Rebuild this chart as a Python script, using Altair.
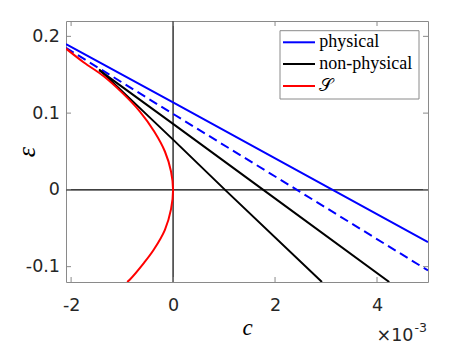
import altair as alt
import pandas as pd

# c values are given in units of 1e-3
x_ticks = [-2, 0, 2, 4]
y_ticks = [-0.1, 0, 0.1, 0.2]

red_c = [-2.10, -1.75, -1.36, -0.99, -0.65, -0.37, -0.16, -0.04, 0.0, -0.04, -0.16, -0.38, -0.57, -0.85, -0.90]
red_eps = [0.184, 0.166, 0.148, 0.126, 0.102, 0.076, 0.050, 0.024, 0.0, -0.025, -0.052, -0.078, -0.095, -0.117, -0.120]

blue_c = [-2.1, 0.0, 3.13, 5.0]
blue_eps = [0.190, 0.114, 0.0, -0.068]

dash_c = [-2.1, 0.0, 2.43, 5.0]
dash_eps = [0.185, 0.099, 0.0, -0.105]

black1_c = [-1.45, 0.0, 1.77, 4.24]
black1_eps = [0.156, 0.086, 0.0, -0.120]

black2_c = [-1.45, 0.0, 1.02, 2.92]
black2_eps = [0.157, 0.0655, 0.0, -0.120]

legend_labels = ["physical", "non-physical", "𝒮"]
legend_colors = ["#0000ff", "#000000", "#ff0000"]

W, H = 362, 261
xs = alt.Scale(domain=[-2.1, 5.0], nice=False, zero=False)
ys = alt.Scale(domain=[-0.12, 0.22], nice=False, zero=False)
GRAY = "#8a8a8a"

x_axis = alt.Axis(
    values=x_ticks, labelExpr="'' + datum.value", domain=False, ticks=False, tickSize=0,
    grid=False, labelFont="DejaVu Sans", labelFontSize=17.5, labelColor="#262626",
    labelPadding=14, labelFlush=False, labelOverlap=False,
    title="c", titleFont="Liberation Serif", titleFontStyle="italic", titleFontWeight="normal",
    titleFontSize=23, titleColor="#000000", titleY=52, titleBaseline="alphabetic",
)
y_axis = alt.Axis(
    values=y_ticks, labelExpr="'' + datum.value", domain=False, ticks=False, tickSize=0,
    grid=False, labelFont="DejaVu Sans", labelFontSize=17.5, labelColor="#262626",
    labelPadding=6.5, labelFlush=False, labelOverlap=False,
    title="ε", titleFont="Liberation Serif", titleFontStyle="italic", titleFontWeight="normal",
    titleFontSize=26, titleColor="#000000", titleX=-32, titleY=H / 2, titleAngle=270,
    titleAlign="center", titleBaseline="alphabetic",
)


def X(field):
    return alt.X(field, scale=xs, axis=x_axis)


def Y(field):
    return alt.Y(field, scale=ys, axis=y_axis)


def line_df(cs, es):
    return pd.DataFrame({"c": cs, "eps": es, "i": list(range(len(cs)))})


def line_layer(cs, es, color, dash=None, interp="linear"):
    kw = dict(color=color, strokeWidth=2, clip=True, interpolate=interp)
    if dash:
        kw["strokeDash"] = dash
    return alt.Chart(line_df(cs, es)).mark_line(**kw).encode(
        x=X("c:Q"), y=Y("eps:Q"), order="i:Q",
    )


zero_df = pd.DataFrame({"c": [0.0], "eps": [0.0]})
vzero = alt.Chart(zero_df).mark_rule(color="#000000", strokeWidth=1.2).encode(x=X("c:Q"))
hzero = alt.Chart(zero_df).mark_rule(color="#000000", strokeWidth=1.2).encode(y=Y("eps:Q"))

xt = pd.DataFrame({"c": x_ticks})
yt = pd.DataFrame({"eps": y_ticks})
tick_layers = [
    alt.Chart(xt).mark_rule(color=GRAY, strokeWidth=1).encode(
        x=X("c:Q"), y=alt.value(H), y2=alt.value(H - 5)),
    alt.Chart(xt).mark_rule(color=GRAY, strokeWidth=1).encode(
        x=X("c:Q"), y=alt.value(0), y2=alt.value(5)),
    alt.Chart(yt).mark_rule(color=GRAY, strokeWidth=1).encode(
        y=Y("eps:Q"), x=alt.value(0), x2=alt.value(5)),
    alt.Chart(yt).mark_rule(color=GRAY, strokeWidth=1).encode(
        y=Y("eps:Q"), x=alt.value(W - 5), x2=alt.value(W)),
]

one = pd.DataFrame({"a": [0]})
legend_layers = [
    alt.Chart(one).mark_rect(fill="white", stroke=GRAY, strokeWidth=1).encode(
        x=alt.value(214), x2=alt.value(353), y=alt.value(9.7), y2=alt.value(78))
]
row_y = [21.3, 43.0, 65.0]
for lab, col, ry in zip(legend_labels, legend_colors, row_y):
    legend_layers.append(
        alt.Chart(one).mark_rule(color=col, strokeWidth=2).encode(
            x=alt.value(217), x2=alt.value(249), y=alt.value(ry)))
    legend_layers.append(
        alt.Chart(one).mark_text(text=lab, font="Liberation Serif", fontSize=18, align="left",
                                 baseline="middle", color="#000000").encode(
            x=alt.value(253.3), y=alt.value(ry)))

exp_layers = [
    alt.Chart(one).mark_text(text="×10", font="DejaVu Sans", fontSize=17.5, align="right",
                             baseline="alphabetic", color="#262626").encode(
        x=alt.value(347.5), y=alt.value(319.7)),
    alt.Chart(one).mark_text(text="-3", font="DejaVu Sans", fontSize=12.5, align="left",
                             baseline="alphabetic", color="#262626").encode(
        x=alt.value(348.5), y=alt.value(310.5)),
]

chart = alt.layer(
    vzero,
    hzero,
    line_layer(blue_c, blue_eps, "#0000ff"),
    line_layer(dash_c, dash_eps, "#0000ff", dash=[9, 5]),
    line_layer(black1_c, black1_eps, "#000000"),
    line_layer(black2_c, black2_eps, "#000000"),
    line_layer(red_c, red_eps, "#ff0000", interp="catmull-rom"),
    *tick_layers,
    *legend_layers,
    *exp_layers,
).properties(
    width=W, height=H,
    padding={"left": 58, "top": 13, "right": 13, "bottom": 62},
    autosize=alt.AutoSizeParams(type="none"),
).configure_view(stroke=GRAY, strokeWidth=1)

chart.save("out.html", embed_options={"renderer": "svg", "actions": False})
